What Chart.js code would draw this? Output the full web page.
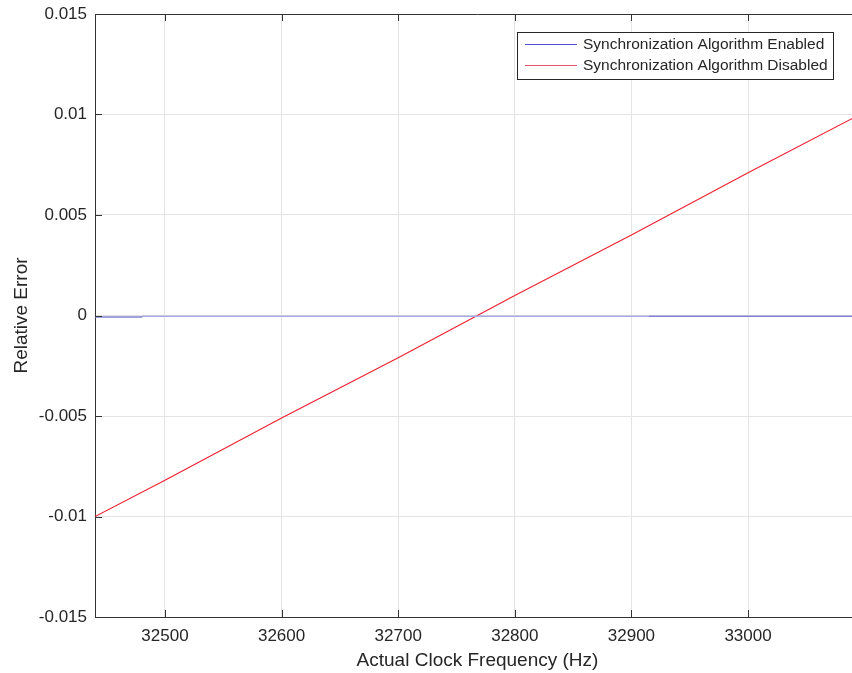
<!DOCTYPE html>
<html>
<head>
<meta charset="utf-8">
<title>Relative Error vs Clock Frequency</title>
<script src="https://cdn.jsdelivr.net/npm/chart.js@4.4.1/dist/chart.umd.min.js"></script>
<style>
  html, body { margin: 0; padding: 0; background: #fff; overflow: hidden; }
  #wrap { width: 860px; height: 673px; position: relative; }
</style>
</head>
<body>
<div id="wrap"><canvas id="errChart"></canvas></div>
<script>
// axis ticks
const freqTicks = [32500, 32600, 32700, 32800, 32900, 33000];
const errTicks = [-0.015, -0.01, -0.005, 0, 0.005, 0.01, 0.015];
const errTickLabels = ["-0.015", "-0.01", "-0.005", "0", "0.005", "0.01", "0.015"];
const freqMin = 32440, freqMax = 33096;

// synchronization on: stays at ~0
const freqEnabled = [32440, 32480, 32480.5, 32915, 33096];
const errEnabled = [-0.00008, -0.00008, -0.00004, -0.00004, -0.00004];

// synchronization off: drifts linearly with the clock
const freqDisabled = [32440, 32500, 32600, 32700, 32800, 32900, 33000, 33096];
const errDisabled = [-0.0100, -0.0082, -0.0051, -0.0021, 0.0010, 0.0040, 0.0071, 0.0100];

const axisColor = "#333333";
const textColor = "#262626";
const gridColor = "#e4e4e4";
const fontFamily = "'Liberation Sans', Arial, Helvetica, sans-serif";

Chart.defaults.font.family = fontFamily;
Chart.defaults.color = textColor;

const toXY = (xs, ys) => xs.map((x, i) => ({x: x, y: ys[i]}));

// matlab-ish box: top border, inward tick marks, legend inside the axes
const boxPlugin = {
    id: "box",
    afterDraw(chart) {
        const {ctx, chartArea: a, scales} = chart;
        const x = scales.x, y = scales.y;
        ctx.save();
        ctx.strokeStyle = axisColor;
        ctx.lineWidth = 1;
        ctx.beginPath();
        ctx.moveTo(a.left, a.top + 0.5);
        ctx.lineTo(a.right, a.top + 0.5);
        ctx.moveTo(a.right - 0.5, a.top);
        ctx.lineTo(a.right - 0.5, a.bottom);
        const tl = 7;
        freqTicks.forEach(v => {
            const px = Math.round(x.getPixelForValue(v)) + 0.5;
            ctx.moveTo(px, a.bottom);
            ctx.lineTo(px, a.bottom - tl);
            ctx.moveTo(px, a.top);
            ctx.lineTo(px, a.top + tl);
        });
        errTicks.forEach(v => {
            const py = Math.round(y.getPixelForValue(v)) + 0.5;
            ctx.moveTo(a.left, py);
            ctx.lineTo(a.left + tl, py);
            ctx.moveTo(a.right, py);
            ctx.lineTo(a.right - tl, py);
        });
        ctx.stroke();

        // legend
        const lx = 517.5, ly = 32.5, lw = 316, lh = 47;
        ctx.fillStyle = "#fff";
        ctx.fillRect(lx, ly, lw, lh);
        ctx.strokeStyle = "#262626";
        ctx.strokeRect(lx, ly, lw, lh);
        ctx.font = "15.5px " + fontFamily;
        ctx.textBaseline = "middle";
        ctx.textAlign = "left";
        const rows = [44, 65];
        chart.data.datasets.forEach((ds, i) => {
            const ry = rows[i] + 0.5;
            ctx.strokeStyle = ds.legendColor;
            ctx.lineWidth = 1.2;
            ctx.beginPath();
            ctx.moveTo(525, ry);
            ctx.lineTo(577, ry);
            ctx.stroke();
            ctx.fillStyle = textColor;
            ctx.fillText(ds.label, 583, rows[i] + 1);
        });
        ctx.restore();
    }
};

new Chart(document.getElementById("errChart"), {
    type: "line",
    data: {
        datasets: [{
            label: "Synchronization Algorithm Enabled",
            data: toXY(freqEnabled, errEnabled),
            borderColor: "#8a8ad6",
            legendColor: "#5050dc",
            borderWidth: 1.5,
            pointRadius: 0,
            segment: {
                borderColor: c => (c.p0DataIndex === 2 ? "#a9a9e2" : "#8282d2")
            }
        }, {
            label: "Synchronization Algorithm Disabled",
            data: toXY(freqDisabled, errDisabled),
            borderColor: "rgb(236,32,48)",
            legendColor: "#e2506a",
            borderWidth: 1.1,
            pointRadius: 0
        }]
    },
    options: {
        responsive: true,
        maintainAspectRatio: false,
        animation: false,
        layout: { padding: { top: 14, right: 0, bottom: 0, left: 0 } },
        plugins: {
            legend: { display: false },
            tooltip: { enabled: false }
        },
        scales: {
            x: {
                type: "linear",
                min: freqMin,
                max: freqMax,
                afterBuildTicks: s => { s.ticks = freqTicks.map(v => ({value: v})); },
                afterFit: s => { s.height = 56; },
                ticks: {
                    padding: 9,
                    maxRotation: 0,
                    font: { size: 17 },
                    color: textColor,
                    callback: v => String(v)
                },
                grid: { color: gridColor, drawTicks: false },
                border: { color: axisColor, width: 1 },
                title: {
                    display: true,
                    text: "Actual Clock Frequency (Hz)",
                    font: { size: 19 },
                    color: textColor,
                    padding: { top: 0, bottom: 0.5 }
                }
            },
            y: {
                type: "linear",
                min: -0.015,
                max: 0.015,
                afterBuildTicks: s => { s.ticks = errTicks.map(v => ({value: v})); },
                afterFit: s => {
                    s.width = 95;
                    s.paddingTop = 0;
                    s.paddingBottom = 0;
                },
                ticks: {
                    padding: 8,
                    font: { size: 17 },
                    color: textColor,
                    callback: (v, i) => errTickLabels[i]
                },
                grid: { color: gridColor, drawTicks: false },
                border: { color: axisColor, width: 1 },
                title: {
                    display: true,
                    text: "Relative Error",
                    font: { size: 19 },
                    color: textColor,
                    padding: { top: 10, bottom: 0 }
                }
            }
        }
    },
    plugins: [boxPlugin]
});
</script>
</body>
</html>
